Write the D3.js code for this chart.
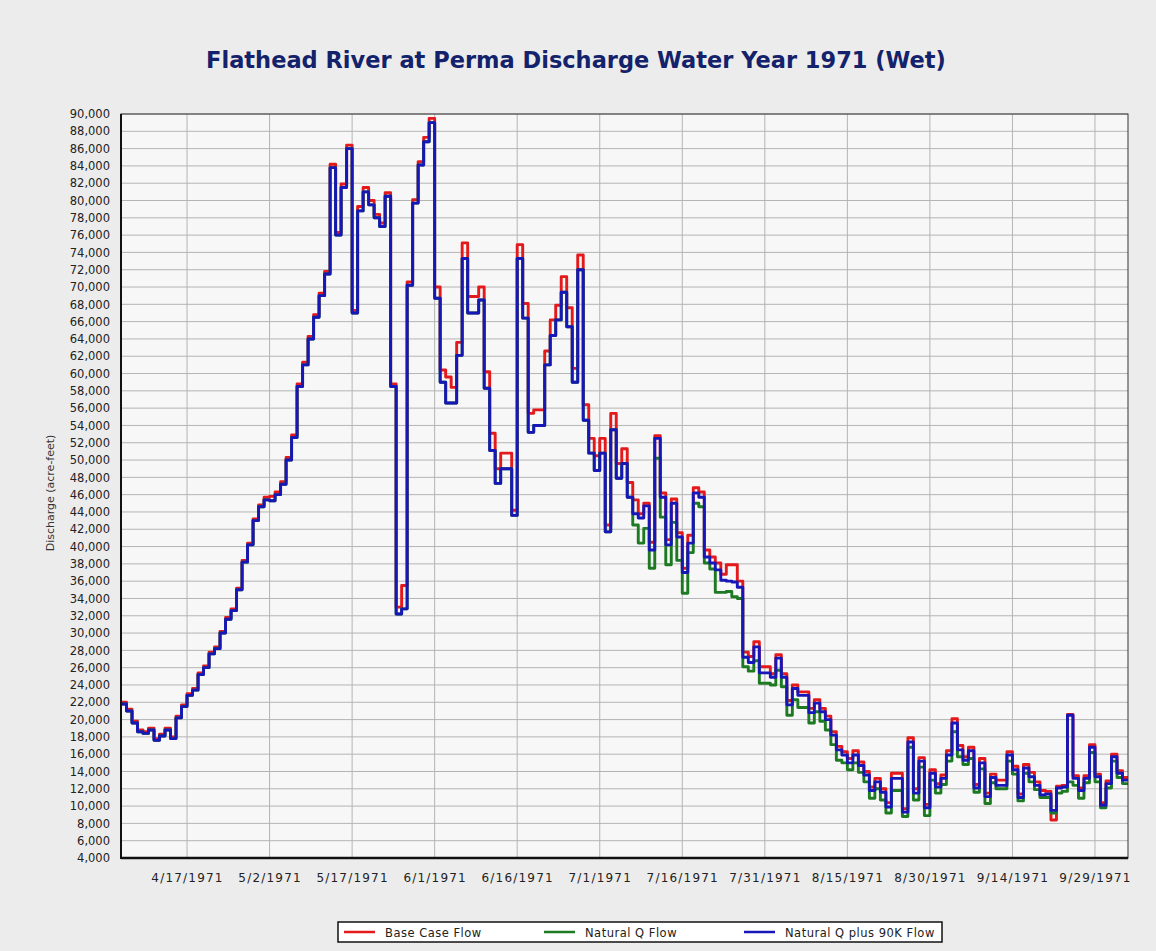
<!DOCTYPE html>
<html>
<head>
<meta charset="utf-8">
<script src="https://cdn.jsdelivr.net/npm/d3@7"></script>
<style>
  body { margin: 0; background: #ececec; }
  svg { display: block; }
</style>
</head>
<body>
<div id="container"></div>
<script>
// daily values, acre-feet, starting at startDate
const startDate = "1971-04-05";
const endDate = "1971-10-05";

const baseCase = [
  22000, 21200, 19800, 18800, 18600, 19000, 17800, 18300, 19000, 18000,
  20400, 21700, 23000, 23600, 25400, 26200, 27800, 28400, 30200, 31800,
  32800, 35200, 38400, 40400, 43200, 44800, 45700, 45800, 46300, 47500,
  50300, 52900, 58800, 61300, 64300, 66800, 69300, 71800, 84200, 76300,
  81900, 86400, 67300, 79300, 81500, 80000, 78400, 77400, 80900, 58800,
  33000, 35500, 70600, 80100, 84500, 87300, 89500, 70000, 60400, 59600,
  58400, 63600, 75100, 68900, 68900, 70000, 60200, 53100, 49000, 50800,
  50800, 44200, 74900, 68100, 55400, 55800, 55800, 62600, 66200, 67900,
  71200, 67600, 60600, 73700, 56400, 52500, 50500, 52500, 42500, 55400,
  49600, 51300, 47400, 45400, 43800, 45000, 40500, 52800, 46200, 40800,
  45500, 41600, 37500, 41300, 46800, 46300, 39600, 38800, 38100, 36800,
  37900, 37900, 36000, 27800, 27300, 29000, 26100, 26100, 25300, 27500,
  25300, 22200, 24000, 23200, 23200, 21300, 22300, 21300, 20400, 18600,
  16900, 16300, 15500, 16400, 15100, 14000, 12200, 13200, 12000, 10400,
  13800, 13800, 9700, 17900, 12000, 15600, 10200, 14200, 12600, 13600,
  16400, 20100, 17000, 15700, 16800, 12500, 15500, 11500, 13700, 13000,
  13000, 16300, 14600, 11400, 14800, 13900, 12800, 11800, 11700, 8400,
  12300, 12400, 20600, 13500, 12100, 13500, 17100, 13700, 10400, 12900,
  16000, 14100, 13300
];

const naturalQ = [
  21800, 21000, 19600, 18600, 18400, 18800, 17600, 18100, 18800, 17800,
  20200, 21500, 22800, 23400, 25200, 26000, 27600, 28200, 30000, 31600,
  32600, 35000, 38200, 40200, 43000, 44600, 45400, 45300, 46000, 47200,
  50000, 52600, 58500, 61000, 64000, 66500, 69000, 71500, 83800, 76000,
  81500, 86000, 67000, 78800, 81000, 79500, 78000, 77000, 80500, 58500,
  32200, 32800, 70200, 79700, 84100, 86800, 89000, 68700, 59000, 56600,
  56600, 62100, 73300, 67000, 67000, 68500, 58300, 51100, 47300, 49000,
  49000, 43600, 73300, 66400, 53200, 54000, 54000, 61000, 64400, 66200,
  69400, 65400, 59000, 72000, 54600, 50800, 48800, 50800, 41700, 53500,
  47900, 49600, 45700, 42500, 40400, 42100, 37500, 50200, 43400, 37900,
  42800, 38400, 34600, 39300, 45000, 44600, 38100, 37400, 34700, 34700,
  34800, 34200, 34000, 26100, 25600, 26800, 24200, 24200, 24000, 25700,
  23800, 20500, 22300, 21400, 21400, 19600, 20900, 19800, 18800, 17100,
  15300, 15000, 14200, 15000, 13900, 12800, 10900, 12000, 10700, 9200,
  11800, 11800, 8800, 16800, 10700, 14500, 8900, 13000, 11500, 12500,
  15200, 18600, 15700, 14800, 15500, 11600, 14300, 10300, 12700, 12000,
  12000, 15200, 13700, 10600, 13800, 12800, 11900, 11000, 11000, 9200,
  11500, 11700, 12800, 12400, 10900, 12700, 16200, 12800, 9800, 12100,
  15200, 13300, 12600
];

const naturalQ90K = [
  21800, 21000, 19600, 18600, 18400, 18800, 17600, 18100, 18800, 17800,
  20200, 21500, 22800, 23400, 25200, 26000, 27600, 28200, 30000, 31600,
  32600, 35000, 38200, 40200, 43000, 44600, 45400, 45300, 46000, 47200,
  50000, 52600, 58500, 61000, 64000, 66500, 69000, 71500, 83800, 76000,
  81500, 86000, 67000, 78800, 81000, 79500, 78000, 77000, 80500, 58500,
  32200, 32800, 70200, 79700, 84100, 86800, 89000, 68700, 59000, 56600,
  56600, 62100, 73300, 67000, 67000, 68500, 58300, 51100, 47300, 49000,
  49000, 43600, 73300, 66400, 53200, 54000, 54000, 61000, 64400, 66200,
  69400, 65400, 59000, 72000, 54600, 50800, 48800, 50800, 41700, 53500,
  47900, 49600, 45700, 43800, 43300, 44700, 39600, 52500, 45700, 40200,
  45000, 41100, 37000, 40400, 46200, 45700, 38800, 38100, 37300, 36100,
  36000, 35900, 35300, 27200, 26600, 28400, 25400, 25400, 24900, 27100,
  24900, 21700, 23600, 22800, 22800, 20800, 21900, 20900, 20000, 18200,
  16500, 15900, 15000, 15900, 14700, 13600, 11800, 12800, 11600, 9900,
  13200, 13200, 9300, 17400, 11500, 15200, 9800, 13800, 12200, 13200,
  15900, 19600, 16500, 15300, 16400, 12100, 15000, 11100, 13300, 12400,
  12400, 15900, 14200, 11000, 14400, 13400, 12400, 11300, 11400, 9500,
  12100, 12200, 20500, 13200, 11800, 13200, 16800, 13400, 10100, 12600,
  15700, 13800, 13000
];

const xTickDates = ["1971-04-17", "1971-05-02", "1971-05-17", "1971-06-01",
  "1971-06-16", "1971-07-01", "1971-07-16", "1971-07-31", "1971-08-15",
  "1971-08-30", "1971-09-14", "1971-09-29"];
const yTicks = d3.range(4000, 90001, 2000);

const seriesNames = ["Base Case Flow", "Natural Q Flow", "Natural Q plus 90K Flow"];
const seriesColors = ["#e3191c", "#1d7a22", "#1717b8"];

const w = 1156;
const h = 951;
const plot = { left: 121, right: 1128, top: 114, bottom: 858 };

const parse = d3.utcParse("%Y-%m-%d");
const t0 = parse(startDate);
const t1 = parse(endDate);

const xScale = d3.scaleUtc().domain([t0, t1]).range([plot.left, plot.right]);
const yScale = d3.scaleLinear().domain([4000, 90000]).range([plot.bottom, plot.top]);

const svg = d3.select("#container")
  .append("svg")
  .attr("width", w)
  .attr("height", h)
  .style("background-color", "#ececec")
  .style("font-family", "'DejaVu Sans', Verdana, sans-serif");

svg.append("rect")
  .attr("x", plot.left).attr("y", plot.top)
  .attr("width", plot.right - plot.left).attr("height", plot.bottom - plot.top)
  .attr("fill", "#f7f7f7");

// grid
svg.append("g")
  .selectAll("line")
  .data(yTicks)
  .enter()
  .append("line")
  .attr("x1", plot.left).attr("x2", plot.right)
  .attr("y1", d => yScale(d)).attr("y2", d => yScale(d))
  .attr("stroke", "#b4b4b4").attr("stroke-width", 1);

svg.append("g")
  .selectAll("line")
  .data(xTickDates)
  .enter()
  .append("line")
  .attr("x1", d => xScale(parse(d))).attr("x2", d => xScale(parse(d)))
  .attr("y1", plot.top).attr("y2", plot.bottom)
  .attr("stroke", "#b4b4b4").attr("stroke-width", 1);

// axes
const yAxis = svg.append("g")
  .attr("transform", "translate(" + plot.left + ",0)")
  .call(d3.axisLeft(yScale).tickValues(yTicks).tickFormat(d3.format(",")).tickSize(0).tickPadding(11));
yAxis.select(".domain").remove();
yAxis.selectAll("text")
  .attr("font-size", 11.5)
  .attr("font-family", "'DejaVu Sans', Verdana, sans-serif")
  .attr("fill", "#222");

const xAxis = svg.append("g")
  .attr("transform", "translate(0," + plot.bottom + ")")
  .call(d3.axisBottom(xScale)
    .tickValues(xTickDates.map(parse))
    .tickFormat(d3.utcFormat("%-m/%-d/%Y"))
    .tickSize(0).tickPadding(15));
xAxis.select(".domain").remove();
xAxis.selectAll("text")
  .attr("font-size", 12)
  .attr("font-family", "'DejaVu Sans', Verdana, sans-serif")
  .attr("letter-spacing", 1.2)
  .attr("fill", "#222");

// lines
const allSeries = [baseCase, naturalQ, naturalQ90K];
const line = d3.line()
  .x(d => xScale(d.date))
  .y(d => yScale(d.value))
  .curve(d3.curveStepAfter);

allSeries.forEach((values, k) => {
  const pts = values.map((v, i) => ({ date: d3.utcDay.offset(t0, i), value: v }));
  pts.push({ date: d3.utcDay.offset(t0, values.length), value: values[values.length - 1] });
  svg.append("path")
    .datum(pts)
    .attr("fill", "none")
    .attr("stroke", seriesColors[k])
    .attr("stroke-width", 2.9)
    .attr("stroke-linejoin", "round")
    .attr("d", line);
});

// frame
svg.append("rect")
  .attr("x", plot.left).attr("y", plot.top)
  .attr("width", plot.right - plot.left).attr("height", plot.bottom - plot.top)
  .attr("fill", "none").attr("stroke", "#333").attr("stroke-width", 1);
svg.append("line")
  .attr("x1", plot.left).attr("x2", plot.left)
  .attr("y1", plot.top).attr("y2", plot.bottom + 1)
  .attr("stroke", "#111").attr("stroke-width", 2);
svg.append("line")
  .attr("x1", plot.left).attr("x2", plot.right)
  .attr("y1", plot.bottom).attr("y2", plot.bottom)
  .attr("stroke", "#111").attr("stroke-width", 2.5);

// title
svg.append("text")
  .attr("x", 576)
  .attr("y", 68)
  .attr("text-anchor", "middle")
  .attr("font-size", 22.5)
  .attr("font-weight", "bold")
  .attr("fill", "#13226a")
  .text("Flathead River at Perma Discharge Water Year 1971 (Wet)");

// y label
svg.append("text")
  .attr("transform", "translate(54,493) rotate(-90)")
  .attr("text-anchor", "middle")
  .attr("font-size", 11)
  .attr("fill", "#333")
  .text("Discharge (acre-feet)");

// legend
const legend = svg.append("g");
legend.append("rect")
  .attr("x", 338).attr("y", 922)
  .attr("width", 604).attr("height", 20)
  .attr("fill", "#fff").attr("stroke", "#111").attr("stroke-width", 1.5);
const legendX = [344, 544, 744];
seriesNames.forEach((name, k) => {
  legend.append("line")
    .attr("x1", legendX[k]).attr("x2", legendX[k] + 31)
    .attr("y1", 932).attr("y2", 932)
    .attr("stroke", seriesColors[k]).attr("stroke-width", 2.5);
  legend.append("text")
    .attr("x", legendX[k] + 41)
    .attr("y", 936.5)
    .attr("font-size", 11.5)
    .attr("letter-spacing", 0.5)
    .attr("fill", "#222")
    .text(name);
});
</script>
</body>
</html>
